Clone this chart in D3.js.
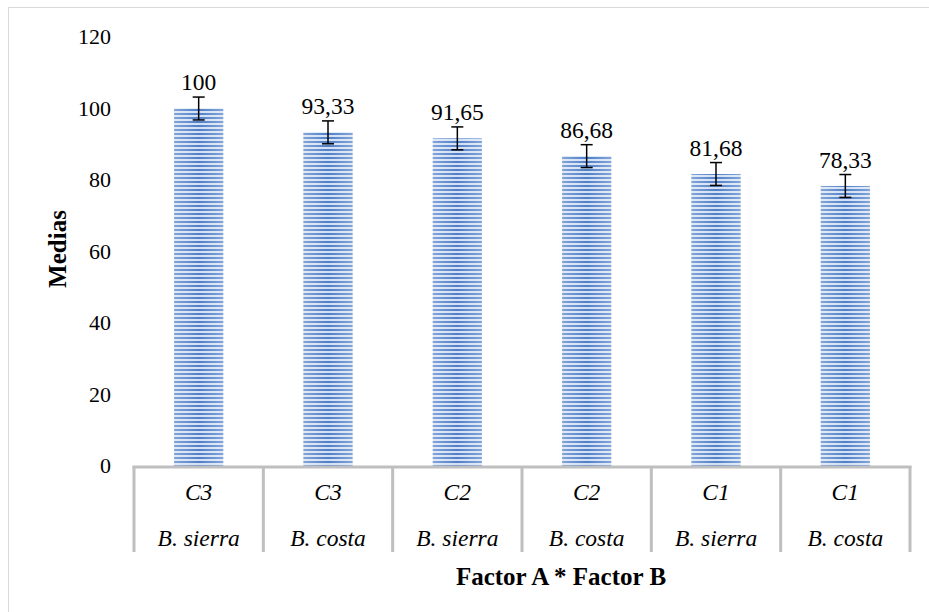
<!DOCTYPE html>
<html>
<head>
<meta charset="utf-8">
<script src="https://cdn.jsdelivr.net/npm/d3@7"></script>
<style>
  body { margin: 0; background: #fff; }
</style>
</head>
<body>
<div class="canva"></div>
<script>
// data
const factorA = ['C3', 'C3', 'C2', 'C2', 'C1', 'C1']
const factorB = ['B. sierra', 'B. costa', 'B. sierra', 'B. costa', 'B. sierra', 'B. costa']
const medias = [100, 93.33, 91.65, 86.68, 81.68, 78.33]
const labels = ['100', '93,33', '91,65', '86,68', '81,68', '78,33']
const errors = [3.2, 3.2, 3.2, 3.2, 3.2, 3.2]
const yTicks = [0, 20, 40, 60, 80, 100, 120]

const W = 929, H = 612
const serif = "'Liberation Serif', 'DejaVu Serif', serif"
const svg = d3.select('.canva').append('svg')
    .attr('width', W)
    .attr('height', H)
    .attr('font-family', serif)

// outer chart border
svg.append('rect')
    .attr('x', 8.5).attr('y', 7.5)
    .attr('width', W + 10).attr('height', H + 10)
    .attr('fill', 'none')
    .attr('stroke', '#d9d9d9')

const plotL = 134, plotR = 910, plotT = 37, plotB = 466

const x = d3.scaleBand()
    .domain(d3.range(medias.length))
    .range([plotL, plotR])
    .paddingInner(0.62)
    .paddingOuter(0.31)

const y = d3.scaleLinear()
    .domain([0, 120])
    .range([plotB, plotT])

// stripe fill
const defs = svg.append('defs')
const pat = defs.append('pattern')
    .attr('id', 'stripes')
    .attr('patternUnits', 'userSpaceOnUse')
    .attr('width', 8).attr('height', 4)
pat.append('rect').attr('width', 8).attr('height', 4).attr('fill', '#d3e0f3')
pat.append('rect').attr('y', 1).attr('width', 8).attr('height', 2).attr('fill', '#4f7fc8')

const grad = defs.append('linearGradient')
    .attr('id', 'shade')
    .attr('x1', '0').attr('x2', '1').attr('y1', '0').attr('y2', '0')
grad.append('stop').attr('offset', '0%').attr('stop-color', '#fff').attr('stop-opacity', 0.3)
grad.append('stop').attr('offset', '50%').attr('stop-color', '#fff').attr('stop-opacity', 0)
grad.append('stop').attr('offset', '100%').attr('stop-color', '#fff').attr('stop-opacity', 0.3)

// y axis labels
svg.selectAll('.ytick')
    .data(yTicks)
    .enter().append('text')
    .attr('class', 'ytick')
    .attr('x', 111)
    .attr('y', d => y(d) + 7)
    .attr('text-anchor', 'end')
    .attr('font-size', '22px')
    .text(d => d)

// bars
svg.selectAll('.bar')
    .data(medias)
    .enter().append('rect')
    .attr('class', 'bar')
    .attr('x', (d, i) => x(i))
    .attr('y', d => y(d))
    .attr('width', x.bandwidth())
    .attr('height', d => plotB - y(d))
    .attr('fill', 'url(#stripes)')

svg.selectAll('.barshade')
    .data(medias)
    .enter().append('rect')
    .attr('class', 'barshade')
    .attr('x', (d, i) => x(i))
    .attr('y', d => y(d))
    .attr('width', x.bandwidth())
    .attr('height', d => plotB - y(d))
    .attr('fill', 'url(#shade)')

// error bars
const eb = svg.selectAll('.err')
    .data(medias)
    .enter().append('g')
    .attr('class', 'err')
    .attr('stroke', '#000')
    .attr('stroke-width', 1.5)
const cx = i => x(i) + x.bandwidth() / 2
eb.append('line')
    .attr('x1', (d, i) => cx(i)).attr('x2', (d, i) => cx(i))
    .attr('y1', (d, i) => y(d + errors[i])).attr('y2', (d, i) => y(d - errors[i]))
eb.append('line')
    .attr('x1', (d, i) => cx(i) - 6).attr('x2', (d, i) => cx(i) + 6)
    .attr('y1', (d, i) => y(d + errors[i])).attr('y2', (d, i) => y(d + errors[i]))
eb.append('line')
    .attr('x1', (d, i) => cx(i) - 6).attr('x2', (d, i) => cx(i) + 6)
    .attr('y1', (d, i) => y(d - errors[i])).attr('y2', (d, i) => y(d - errors[i]))

// value labels
svg.selectAll('.val')
    .data(medias)
    .enter().append('text')
    .attr('class', 'val')
    .attr('x', (d, i) => cx(i))
    .attr('y', (d, i) => y(d + errors[i]) - 7)
    .attr('text-anchor', 'middle')
    .attr('font-size', '23.5px')
    .text((d, i) => labels[i])

// category axis with separators
const bounds = d3.range(medias.length + 1).map(i => plotL + i * x.step())
svg.append('line')
    .attr('x1', plotL - 1.5).attr('x2', plotR + 1.5)
    .attr('y1', plotB + 1).attr('y2', plotB + 1)
    .attr('stroke', '#bfbfbf').attr('stroke-width', 3)
svg.selectAll('.sep')
    .data(bounds)
    .enter().append('line')
    .attr('class', 'sep')
    .attr('x1', d => d).attr('x2', d => d)
    .attr('y1', plotB).attr('y2', 552)
    .attr('stroke', '#bfbfbf').attr('stroke-width', 3)

svg.selectAll('.catA')
    .data(factorA)
    .enter().append('text')
    .attr('class', 'catA')
    .attr('x', (d, i) => cx(i))
    .attr('y', 500)
    .attr('text-anchor', 'middle')
    .attr('font-size', '23.5px')
    .attr('font-style', 'italic')
    .text(d => d)

svg.selectAll('.catB')
    .data(factorB)
    .enter().append('text')
    .attr('class', 'catB')
    .attr('x', (d, i) => cx(i))
    .attr('y', 546)
    .attr('text-anchor', 'middle')
    .attr('font-size', '23.5px')
    .attr('font-style', 'italic')
    .text(d => d)

// axis titles
svg.append('text')
    .attr('x', 561)
    .attr('y', 585)
    .attr('text-anchor', 'middle')
    .attr('font-size', '25px')
    .attr('font-weight', 'bold')
    .text('Factor A * Factor B')

svg.append('text')
    .attr('transform', 'translate(66,249) rotate(-90)')
    .attr('text-anchor', 'middle')
    .attr('font-size', '25px')
    .attr('font-weight', 'bold')
    .text('Medias')
</script>
</body>
</html>
